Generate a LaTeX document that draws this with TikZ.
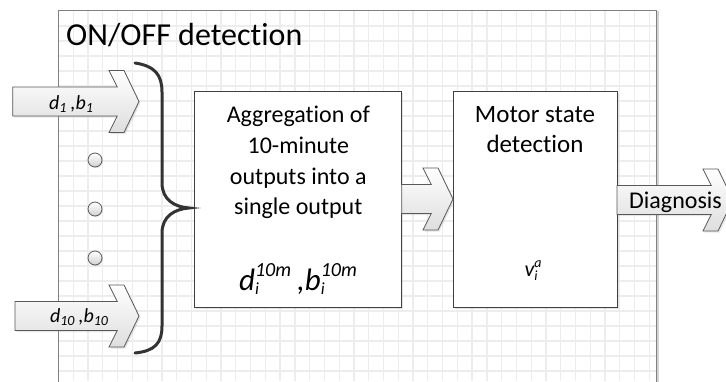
\documentclass[tikz,border=0pt]{standalone}
\usepackage{fontspec}
\setmainfont{Carlito}[Ligatures={NoCommon,NoContextual}]
\usetikzlibrary{shadows}
\tikzset{
  framebg/.style={fill=white, drop shadow={opacity=0.35, shadow xshift=2pt, shadow yshift=-1pt}},
  frameline/.style={draw=black!50, line width=1pt},
  gridline/.style={draw=black!7, line width=1.3pt},
  procbox/.style={draw=black!75, line width=1pt, fill=white, inner sep=0pt,
    drop shadow={opacity=0.2, shadow xshift=1.5pt, shadow yshift=-1.5pt}},
  blockarrow/.style={draw=black!65, line width=0.8pt, top color=white, bottom color=black!13,
    drop shadow={opacity=0.2, shadow xshift=1.5pt, shadow yshift=-1.5pt}},
  dotcircle/.style={circle, draw=black!65, line width=0.8pt, minimum size=14pt, inner sep=0pt,
    top color=white, bottom color=black!18,
    drop shadow={opacity=0.2, shadow xshift=1pt, shadow yshift=-1pt}},
  bracepath/.style={draw=black!80, line width=3pt, line cap=round},
  lbl/.style={inner sep=0pt, anchor=base},
}
\newcommand\chevarrow[3]{%
  \draw[blockarrow] (#1,{#3+14.5}) -- ({#2-21.75},{#3+14.5}) -- ({#2-30},{#3+31})
    -- ({#2-15},{#3+31}) -- (#2,#3) -- ({#2-15},{#3-31}) -- ({#2-30},{#3-31})
    -- ({#2-21.75},{#3-14.5}) -- (#1,{#3-14.5}) -- cycle;}
\begin{document}
\begin{tikzpicture}[x=1pt,y=1pt]
\useasboundingbox (0,0) rectangle (726,-381);
\clip (0,0) rectangle (726,-381);
% frame and grid
\path[framebg] (58,-10) rectangle (656.5,-400);
\foreach \i in {0,...,39} {\draw[gridline] ({73.3+14.77*\i},-10.5) -- ({73.3+14.77*\i},-381);}
\foreach \j in {1,...,24} {\draw[gridline] (58.5,{-11-15*\j}) -- (656,{-11-15*\j});}
\draw[frameline] (58,-400) -- (58,-10) -- (656.5,-10) -- (656.5,-400);
\node[lbl, anchor=base west, font=\fontsize{32}{32}\selectfont] (title) at (66,-45) {ON/OFF detection};
% boxes
\node[procbox, minimum width=206.7pt, minimum height=216pt] (agg) at (298.3,-199.7) {};
\node[procbox, minimum width=164pt, minimum height=216pt] (motor) at (535,-199.7) {};
\node[inner sep=0pt, anchor=north, align=center, font=\fontsize{24}{30.7}\selectfont] (aggtxt) at (298.3,-106)
  {Aggregation of\\10-minute\\outputs into a\\single output};
\node[lbl, font=\fontsize{31}{31}\selectfont\itshape] (aggmath) at (298,-290)
  {d\rlap{\raisebox{-4.5pt}{\fontsize{17}{17}\selectfont i}}\raisebox{14pt}{\fontsize{20}{20}\selectfont 10m}\hspace{6pt},b\rlap{\raisebox{-4.5pt}{\fontsize{17}{17}\selectfont i}}\raisebox{14pt}{\fontsize{20}{20}\selectfont 10m}};
\node[inner sep=0pt, anchor=north, align=center, font=\fontsize{25}{30.5}\selectfont] (mottxt) at (535,-106)
  {Motor state\\detection};
\node[lbl, font=\fontsize{22}{22}\selectfont\itshape] (vmath) at (533,-276.7)
  {v\rlap{\raisebox{-4pt}{\fontsize{14}{14}\selectfont i}}\raisebox{9.5pt}{\fontsize{14}{14}\selectfont a}};
% input arrows
\chevarrow{12.7}{139}{-101.5}
\node[lbl, font=\fontsize{20}{20}\selectfont\itshape] (in1) at (71,-109)
  {d\raisebox{-3.5pt}{\fontsize{14}{14}\selectfont 1}\hspace{4pt},b\raisebox{-3.5pt}{\fontsize{14}{14}\selectfont 1}};
\chevarrow{15}{139}{-316}
\node[lbl, font=\fontsize{20}{20}\selectfont\itshape] (in10) at (79,-322)
  {d\raisebox{-3.5pt}{\fontsize{14}{14}\selectfont 10}\hspace{4pt},b\raisebox{-3.5pt}{\fontsize{14}{14}\selectfont 10}};
% dots
\node[dotcircle] (c1) at (95,-160) {};
\node[dotcircle] (c2) at (95,-209) {};
\node[dotcircle] (c3) at (95,-258) {};
% brace
\draw[bracepath] (135,-63) .. controls (155,-66) and (162,-75) .. (162,-92) -- (162,-183)
  .. controls (162,-200) and (175,-207) .. (189,-208)
  .. controls (175,-209) and (162,-216) .. (162,-233) -- (162,-326)
  .. controls (162,-343) and (155,-351) .. (135,-353);
% connecting arrows
\chevarrow{401.7}{453}{-199}
\chevarrow{617}{733}{-200}
\node[lbl, font=\fontsize{24}{24}\selectfont] (diag) at (675.5,-208) {Diagnosis};
\end{tikzpicture}
\end{document}
